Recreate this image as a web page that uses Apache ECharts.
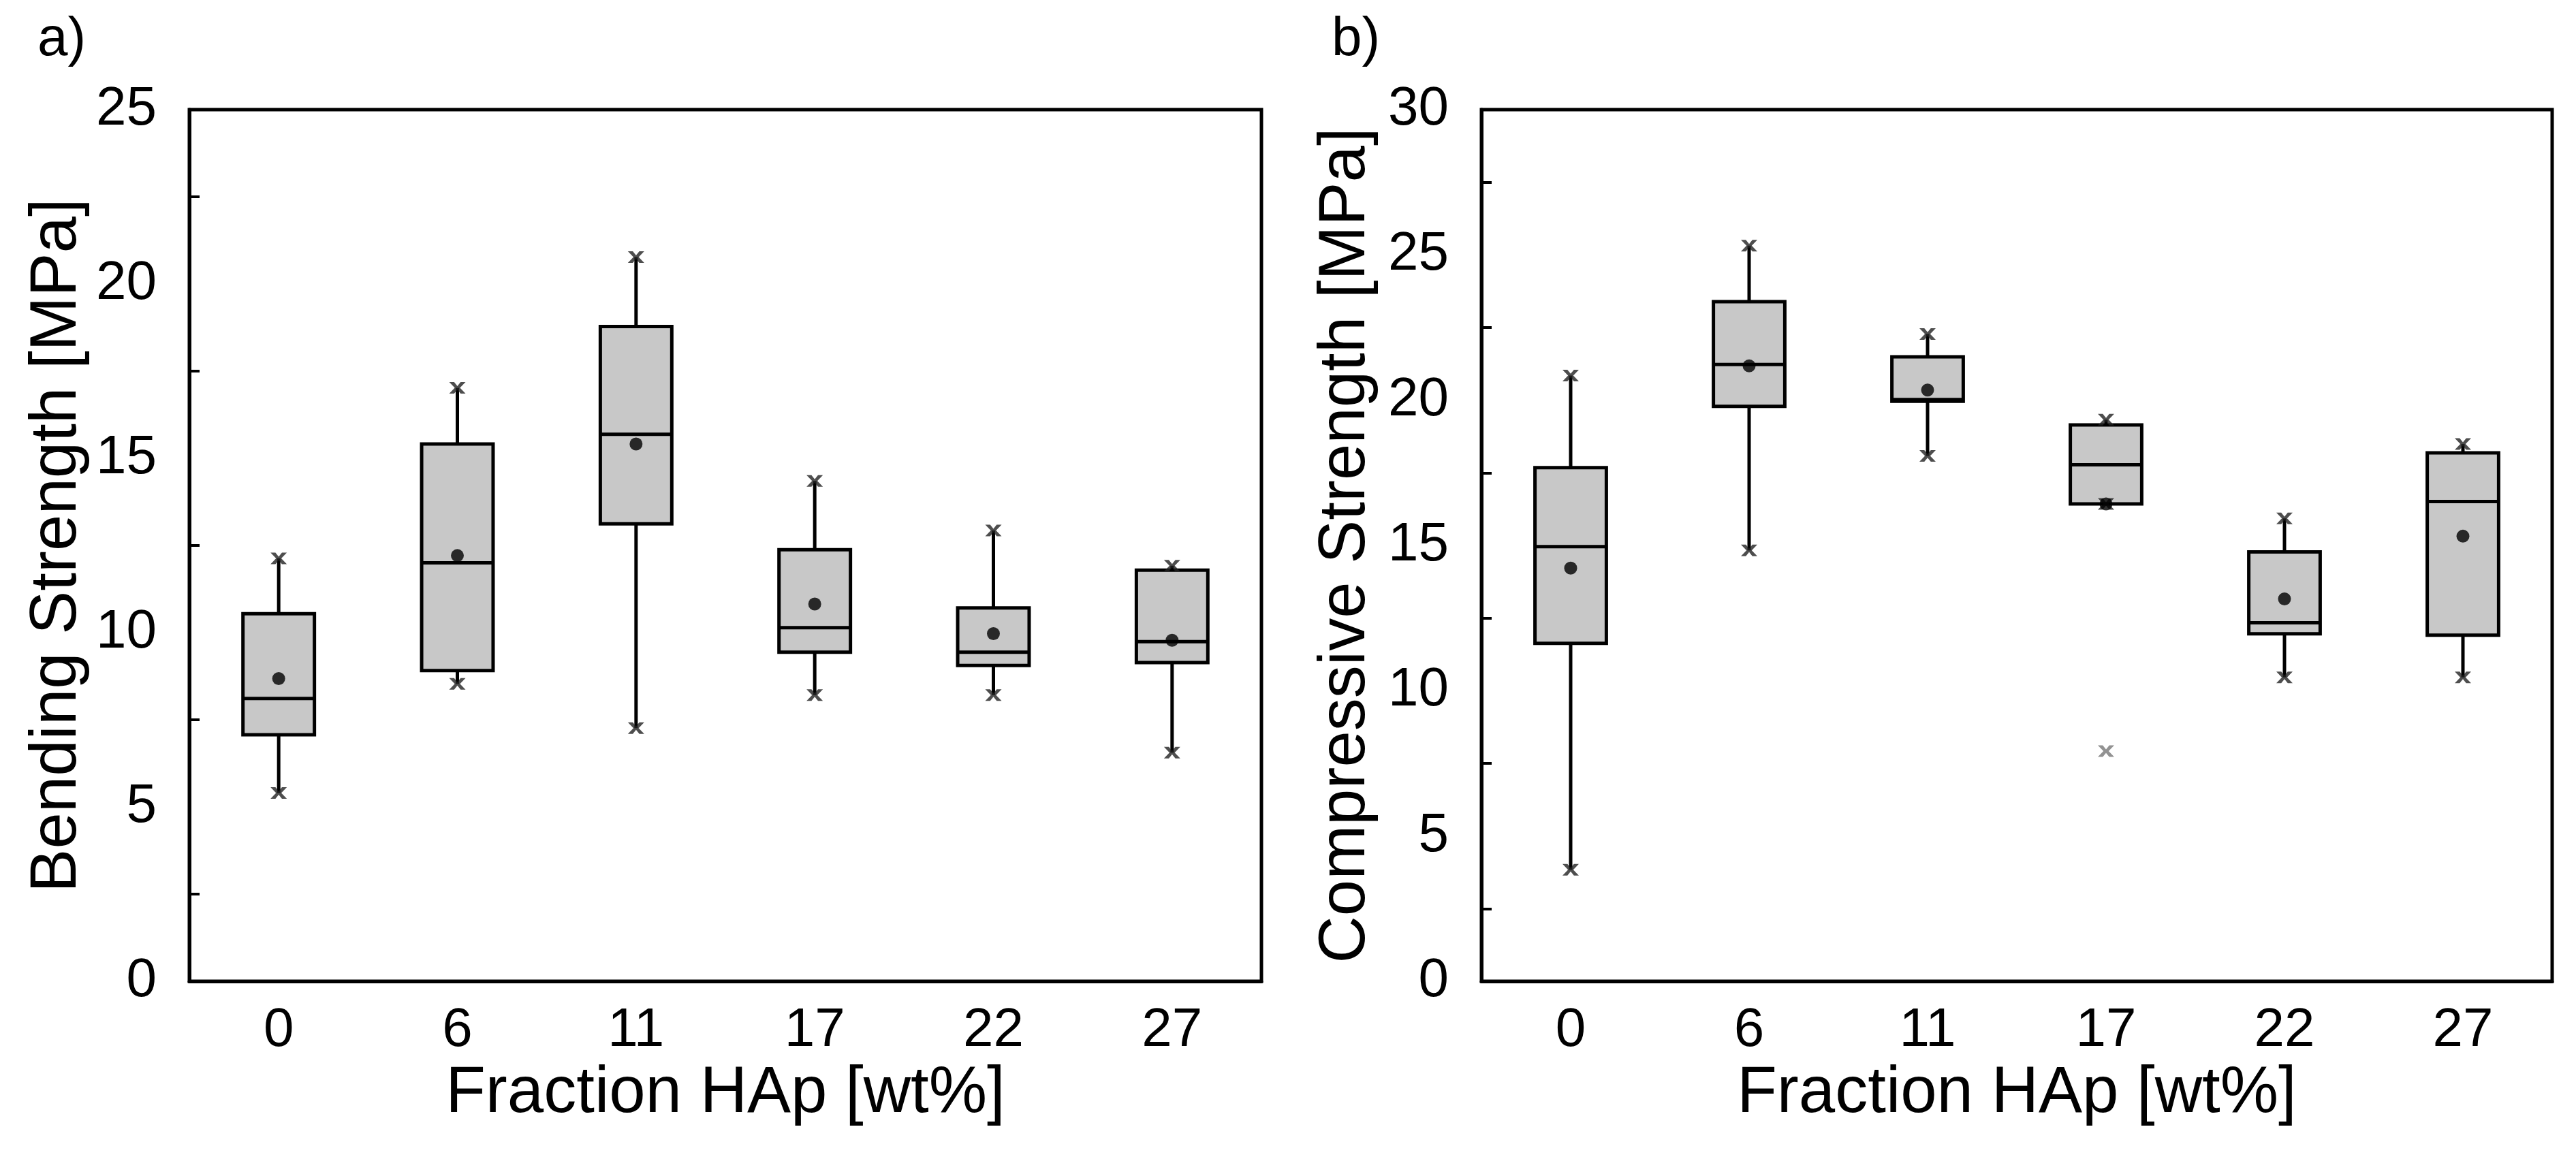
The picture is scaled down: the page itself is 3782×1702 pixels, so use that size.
<!DOCTYPE html>
<html>
<head>
<meta charset="utf-8">
<title>Bending and compressive strength vs HAp fraction</title>
<script src="https://cdn.jsdelivr.net/npm/echarts/dist/echarts.min.js"></script>
<style>
  html, body { margin: 0; padding: 0; background: #fff; }
  #main { width: 3782px; height: 1702px; }
</style>
</head>
<body>
<div id="main"></div>
<script>
// categories: HAp fraction [wt%]
var fractions = ['0', '6', '11', '17', '22', '27'];

// a) bending strength [MPa]
var bendMin    = [5.40, 8.53, 7.26, 8.21, 8.21, 6.56];
var bendQ1     = [7.07, 8.91, 13.12, 9.44, 9.06, 9.14];
var bendMedian = [8.11, 12.00, 15.69, 10.14, 9.44, 9.74];
var bendQ3     = [10.54, 15.41, 18.78, 12.38, 10.71, 11.79];
var bendMax    = [12.13, 17.02, 20.77, 14.35, 12.93, 11.92];
var bendMean   = [8.68, 12.21, 15.41, 10.82, 9.97, 9.78];

// b) compressive strength [MPa]
var compMin    = [3.84, 14.83, 18.08, 16.43, 10.46, 10.46];
var compQ1     = [11.63, 19.79, 19.96, 16.43, 11.96, 11.91];
var compMedian = [14.96, 21.23, 20.02, 17.78, 12.34, 16.51];
var compQ3     = [17.68, 23.39, 21.49, 19.15, 14.78, 18.19];
var compMax    = [20.85, 25.32, 22.28, 19.33, 15.93, 18.49];
var compMean   = [14.22, 21.18, 20.35, 16.43, 13.16, 15.32];
var compOutliers = [[3, 7.92]];

var bendTicks = [0, 25, 5];
var compTicks = [0, 30, 5];

var FONT = 'Liberation Sans, Arial, sans-serif';
var cross = 'path://M0,0 L3,0 L5,3.5 L7,0 L10,0 L6.6,5 L10,10 L7,10 L5,6.5 L3,10 L0,10 L3.4,5 Z';

function boxRows(mn, q1, md, q3, mx) {
  return fractions.map(function (f, i) {
    return [i, mn[i], q1[i], md[i], q3[i], mx[i]];
  });
}

function endPoints(mn, mx) {
  var out = [];
  for (var i = 0; i < fractions.length; i++) {
    out.push([i, mn[i]]);
    out.push([i, mx[i]]);
  }
  return out;
}

function meanPoints(m) {
  return m.map(function (v, i) { return [i, v]; });
}

function renderBox(params, api) {
  var x = api.value(0);
  var lo = api.coord([x, api.value(1)]);
  var q1 = api.coord([x, api.value(2)]);
  var md = api.coord([x, api.value(3)]);
  var q3 = api.coord([x, api.value(4)]);
  var hi = api.coord([x, api.value(5)]);
  var w = api.size([1, 0])[0] * 0.4;
  var ls = { stroke: '#000', lineWidth: 5 };
  return {
    type: 'group',
    children: [
      { type: 'line', shape: { x1: lo[0], y1: lo[1], x2: q1[0], y2: q1[1] }, style: ls },
      { type: 'line', shape: { x1: q3[0], y1: q3[1], x2: hi[0], y2: hi[1] }, style: ls },
      { type: 'rect', shape: { x: q3[0] - w / 2, y: q3[1], width: w, height: q1[1] - q3[1] },
        style: { fill: '#c8c8c8', stroke: '#000', lineWidth: 5 } },
      { type: 'line', shape: { x1: md[0] - w / 2, y1: md[1], x2: md[0] + w / 2, y2: md[1] }, style: ls }
    ]
  };
}

function xAxisFor(idx) {
  return {
    type: 'category', gridIndex: idx, data: fractions, boundaryGap: true,
    name: 'Fraction HAp [wt%]', nameLocation: 'middle', nameGap: 110,
    nameTextStyle: { fontSize: 96, color: '#000', fontFamily: FONT },
    axisLine: { lineStyle: { color: '#000', width: 5 } },
    axisTick: { inside: true, alignWithLabel: true, length: 26, lineStyle: { color: '#000', width: 5 } },
    axisLabel: { fontSize: 80, color: '#000', fontFamily: FONT, margin: 33 },
    splitLine: { show: false }
  };
}

function yAxisFor(idx, name, ticks, gap) {
  return {
    type: 'value', gridIndex: idx, min: ticks[0], max: ticks[1], interval: ticks[2],
    name: name, nameLocation: 'middle', nameGap: gap,
    nameTextStyle: { fontSize: 96, color: '#000', fontFamily: FONT },
    axisLine: { show: true, lineStyle: { color: '#000', width: 5 } },
    axisTick: { inside: true, length: 26, lineStyle: { color: '#000', width: 5 } },
    minorTick: { show: true, splitNumber: 2, length: 15, lineStyle: { color: '#000', width: 4 } },
    axisLabel: { fontSize: 80, color: '#000', fontFamily: FONT, margin: 48 },
    splitLine: { show: false }
  };
}

function seriesFor(idx, rows, ends, means) {
  return [
    { type: 'custom', xAxisIndex: idx, yAxisIndex: idx, renderItem: renderBox,
      encode: { x: 0, y: [1, 2, 3, 4, 5] }, data: rows, z: 2 },
    { type: 'scatter', xAxisIndex: idx, yAxisIndex: idx, symbol: cross, symbolSize: [24, 17],
      itemStyle: { color: '#222' }, data: ends, z: 3 },
    { type: 'scatter', xAxisIndex: idx, yAxisIndex: idx, symbol: 'circle', symbolSize: 19,
      itemStyle: { color: '#000' }, data: means, z: 4 }
  ];
}

var chart = echarts.init(document.getElementById('main'));

var series = []
  .concat(seriesFor(0, boxRows(bendMin, bendQ1, bendMedian, bendQ3, bendMax),
                    endPoints(bendMin, bendMax), meanPoints(bendMean)))
  .concat(seriesFor(1, boxRows(compMin, compQ1, compMedian, compQ3, compMax),
                    endPoints(compMin, compMax), meanPoints(compMean)));
series.push({ type: 'scatter', xAxisIndex: 1, yAxisIndex: 1, symbol: cross, symbolSize: [24, 17],
  itemStyle: { color: '#777' }, data: compOutliers, z: 3 });

var option = {
  backgroundColor: '#fff',
  animation: false,
  title: [
    { text: 'a)', left: 50, top: 14, textStyle: { fontSize: 80, fontWeight: 'normal', color: '#000', fontFamily: FONT } },
    { text: 'b)', left: 1950, top: 14, textStyle: { fontSize: 80, fontWeight: 'normal', color: '#000', fontFamily: FONT } }
  ],
  grid: [
    { left: 278, top: 161, width: 1574, height: 1280, show: true, borderColor: '#000', borderWidth: 5, backgroundColor: 'transparent' },
    { left: 2175, top: 161, width: 1572, height: 1280, show: true, borderColor: '#000', borderWidth: 5, backgroundColor: 'transparent' }
  ],
  xAxis: [xAxisFor(0), xAxisFor(1)],
  yAxis: [
    yAxisFor(0, 'Bending Strength [MPa]', bendTicks, 145),
    yAxisFor(1, 'Compressive Strength [MPa]', compTicks, 150)
  ],
  series: series
};

option && chart.setOption(option);
</script>
</body>
</html>
